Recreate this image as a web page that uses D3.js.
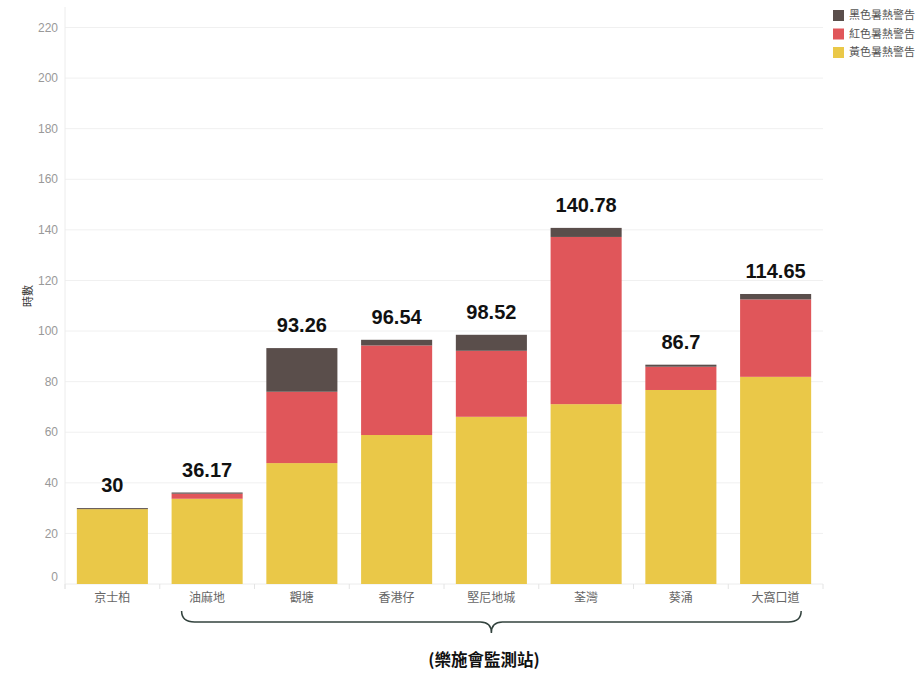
<!DOCTYPE html>
<meta charset="utf-8">
<style>
body { margin: 0; background: #fff; }
svg { font-family: "Liberation Sans", Arial, "Noto Sans CJK TC", sans-serif; }
.grid line { stroke: #f0f0f0; }
.ytick text { fill: #999; font-size: 12px; }
.xlab { fill: #666; font-size: 12px; font-family: "Noto Sans CJK TC", sans-serif; }
.total { font-size: 20px; font-weight: bold; fill: #111; }
.legend text { font-size: 11px; fill: #555; font-family: "Noto Sans CJK TC", sans-serif; }
</style>
<svg width="920" height="684"></svg>
<script src="https://cdn.jsdelivr.net/npm/d3@7"></script>
<script>
// stations (樂施會監測站)
const stations = ["京士柏", "油麻地", "觀塘", "香港仔", "堅尼地城", "荃灣", "葵涌", "大窩口道"];
// hours under each heat warning level
const yellow = [29.6, 33.7, 47.8, 58.9, 66.1, 71.1, 76.7, 81.9];
const red    = [0,    2.0,  28.2, 35.4, 26.1, 66.1, 9.2,  30.6];
const black  = [0.4,  0.47, 17.26, 2.24, 6.32, 3.58, 0.8, 2.15];
const totals = ["30", "36.17", "93.26", "96.54", "98.52", "140.78", "86.7", "114.65"];
const yTicks = [0, 20, 40, 60, 80, 100, 120, 140, 160, 180, 200, 220];

const levels = ["black", "red", "yellow"];
const levelNames = {black: "黑色暑熱警告", red: "紅色暑熱警告", yellow: "黃色暑熱警告"};
const colors = {yellow: "#eac848", red: "#e0565a", black: "#5a4e4b"};

const svg = d3.select("svg");
const plotL = 65, plotR = 823, plotT = 7, plotB = 584;

const x = d3.scaleBand().domain(stations).range([plotL, plotR])
    .paddingInner(0.25).paddingOuter(0.125);
const y = d3.scaleLinear().domain([0, 220]).range([plotB, 27.5]);

// grid lines + y labels
const grid = svg.append("g").attr("class", "grid");
grid.selectAll("line.h").data(yTicks.filter(d => d > 0)).enter().append("line")
    .attr("x1", plotL).attr("x2", plotR)
    .attr("y1", d => y(d)).attr("y2", d => y(d));
grid.append("line").attr("x1", plotL).attr("x2", plotL).attr("y1", plotT).attr("y2", plotB + 5)
    .style("stroke", "#ececec");
grid.append("line").attr("x1", plotL).attr("x2", plotR).attr("y1", plotB).attr("y2", plotB)
    .style("stroke", "#ececec");
grid.selectAll("line.t").data(d3.range(stations.length + 1)).enter().append("line")
    .attr("x1", i => plotL + i * x.step()).attr("x2", i => plotL + i * x.step())
    .attr("y1", plotB).attr("y2", plotB + 5)
    .style("stroke", "#e4e4e4");

svg.append("g").attr("class", "ytick").selectAll("text").data(yTicks).enter().append("text")
    .attr("x", 58).attr("y", d => d === 0 ? y(d) - 7 : y(d))
    .attr("dy", "0.35em").attr("text-anchor", "end")
    .text(d => d);

// axis title
svg.append("text")
    .attr("transform", "translate(32,296) rotate(-90)")
    .attr("text-anchor", "middle")
    .style("font-size", "11px").style("fill", "#333")
    .style("font-family", "'Noto Sans CJK TC', sans-serif")
    .text("時數");

// stacked bars
const rows = stations.map((s, i) => ({station: s, yellow: yellow[i], red: red[i], black: black[i]}));
const series = d3.stack().keys(["yellow", "red", "black"])(rows);

svg.append("g").selectAll("g").data(series).enter().append("g")
    .attr("fill", d => colors[d.key])
    .selectAll("rect").data(d => d).enter().append("rect")
    .attr("x", d => x(d.data.station))
    .attr("width", x.bandwidth())
    .attr("y", d => y(d[1]))
    .attr("height", d => Math.max(0, y(d[0]) - y(d[1])));

// totals
svg.append("g").selectAll("text").data(rows).enter().append("text")
    .attr("class", "total")
    .attr("x", d => x(d.station) + x.bandwidth() / 2)
    .attr("y", d => y(d.yellow + d.red + d.black) - 16)
    .attr("text-anchor", "middle")
    .text((d, i) => totals[i]);

// x labels
svg.append("g").selectAll("text").data(stations).enter().append("text")
    .attr("class", "xlab")
    .attr("x", d => x(d) + x.bandwidth() / 2)
    .attr("y", 602)
    .attr("text-anchor", "middle")
    .text(d => d);

// brace under the Oxfam stations
const bx0 = x("油麻地") + 10, bx1 = x("大窩口道") + x.bandwidth() - 10;
const bm = (bx0 + bx1) / 2;
const by0 = 611, by1 = 622, by2 = 633, r = 9;
svg.append("path")
    .attr("d", `M${bx0},${by0} Q${bx0},${by1} ${bx0 + r + 4},${by1} L${bm - r - 2},${by1} Q${bm},${by1} ${bm},${by2} Q${bm},${by1} ${bm + r + 2},${by1} L${bx1 - r - 4},${by1} Q${bx1},${by1} ${bx1},${by0}`)
    .attr("fill", "none").attr("stroke", "#33433e").attr("stroke-width", 1.5);

svg.append("text")
    .attr("x", 484).attr("y", 666)
    .attr("text-anchor", "middle")
    .style("font-size", "16.5px").style("font-weight", "bold").style("fill", "#111")
    .style("font-family", "'Noto Sans CJK TC', sans-serif")
    .text("(樂施會監測站)");

// legend
const lg = svg.append("g").attr("class", "legend").selectAll("g").data(levels).enter().append("g")
    .attr("transform", (d, i) => `translate(833,${10 + i * 18.5})`);
lg.append("rect").attr("width", 11).attr("height", 11).attr("fill", d => colors[d]);
lg.append("text").attr("x", 16).attr("y", 5.5).attr("dy", "0.35em").text(d => levelNames[d]);
</script>
